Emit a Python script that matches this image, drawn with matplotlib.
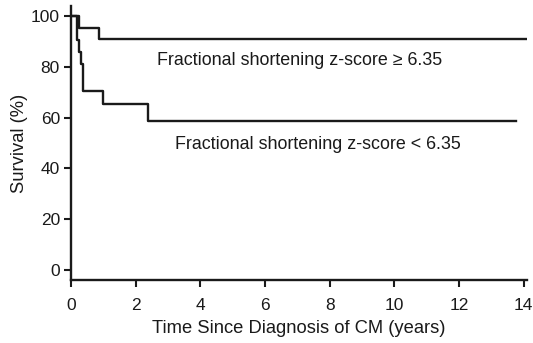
"""
Kaplan-Meier style survival curves by fractional shortening z-score.
"""

import matplotlib
matplotlib.use("Agg")
import matplotlib.pyplot as plt

plt.rcParams["font.family"] = ["Liberation Sans", "DejaVu Sans"]

# step curves: times (years) where survival changes, and survival (%) after each step
high_times = [0.0, 0.25, 0.87, 14.1]
high_surv = [100.0, 95.5, 90.9, 90.9]

low_times = [0.0, 0.18, 0.25, 0.31, 0.38, 1.0, 2.38, 13.75]
low_surv = [100.0, 90.5, 85.8, 81.2, 70.6, 65.3, 58.8, 58.8]

x_ticks = [0, 2, 4, 6, 8, 10, 12, 14]
y_ticks = [0, 20, 40, 60, 80, 100]

label_high = "Fractional shortening z-score \u2265 6.35"
label_low = "Fractional shortening z-score < 6.35"

ink = "#1a1a1a"

fig = plt.figure(figsize=(5.33, 3.43), dpi=100)
ax = fig.add_axes([0.1332, 0.1837, 0.8555, 0.7988])

ax.step(high_times, high_surv, where="post", color=ink, linewidth=1.7)
ax.step(low_times, low_surv, where="post", color=ink, linewidth=1.7)

ax.text(2.66, 80.8, label_high, fontsize=12.9, color=ink, va="baseline")
ax.text(3.21, 47.7, label_low, fontsize=12.9, color=ink, va="baseline")

ax.set_xlim(0, 14.1)
ax.set_ylim(-4, 104)
ax.set_xticks(x_ticks)
ax.set_yticks(y_ticks)
ax.tick_params(axis="both", direction="out", length=5, width=1.5,
               labelsize=12.5, colors=ink)
ax.tick_params(axis="y", pad=3)
ax.tick_params(axis="x", pad=8)

for side in ("top", "right"):
    ax.spines[side].set_visible(False)
for side in ("left", "bottom"):
    ax.spines[side].set_linewidth(1.7)
    ax.spines[side].set_color(ink)

ax.set_xlabel("Time Since Diagnosis of CM (years)", fontsize=13.2, color=ink, labelpad=5)
ax.set_ylabel("Survival (%)", fontsize=13.2, color=ink, labelpad=2)

fig.savefig("out.png", dpi=100)
plt.close(fig)
